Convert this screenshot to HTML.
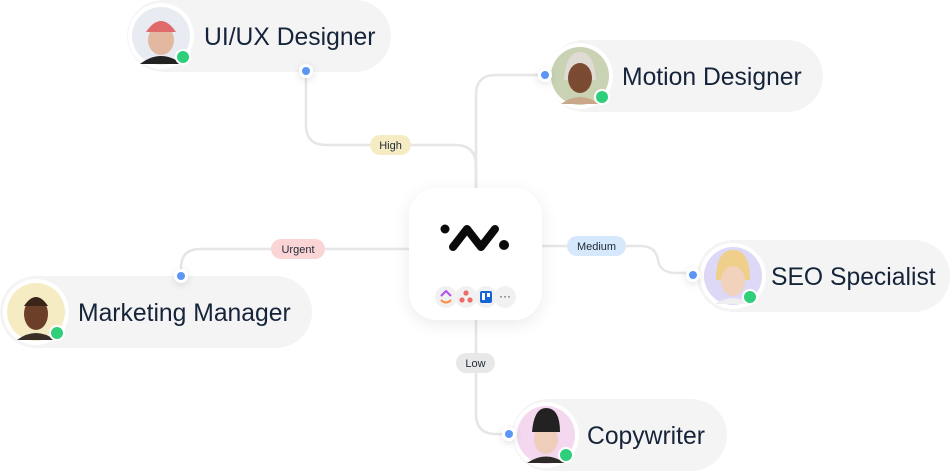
<!DOCTYPE html>
<html><head><meta charset="utf-8"><style>
html,body{margin:0;padding:0;background:#fff;width:950px;height:473px;overflow:hidden}
svg{display:block}
text{font-family:"Liberation Sans",sans-serif}
</style></head><body>
<svg width="950" height="473" viewBox="0 0 950 473" xmlns="http://www.w3.org/2000/svg">
<defs>
<filter id="sh" x="-30%" y="-30%" width="160%" height="160%"><feDropShadow dx="0" dy="4" stdDeviation="8" flood-color="#000" flood-opacity="0.08"/></filter>
<filter id="sh2" x="-100%" y="-100%" width="300%" height="300%"><feDropShadow dx="0" dy="2" stdDeviation="4" flood-color="#000" flood-opacity="0.12"/></filter>
</defs>
<!-- connectors -->
<g fill="none" stroke="#e6e6e6" stroke-width="2.5">
<path d="M306 71 V125 Q306 145 326 145 H455 Q476 145 476 166 V190"/>
<path d="M545 75 H496 Q476 75 476 95 V190"/>
<path d="M540 246 H640 Q656 246 658 260 Q660 273 676 273 H692"/>
<path d="M410 249 H200 Q181 249 181 268 V276"/>
<path d="M476 318 V414 Q476 434 496 434 H509"/>
</g>
<!-- labels -->
<g font-size="11" fill="#1f2937" text-anchor="middle">
<rect x="370" y="135" width="41" height="20" rx="10" fill="#f6ecc4"/><text x="390.5" y="149">High</text>
<rect x="567" y="236" width="59" height="20" rx="10" fill="#d6e8fb"/><text x="596.5" y="250">Medium</text>
<rect x="271" y="239" width="54" height="20" rx="10" fill="#fbd5d5"/><text x="298" y="253">Urgent</text>
<rect x="456" y="353" width="39" height="20" rx="10" fill="#e8e8e8"/><text x="475.5" y="367">Low</text>
</g>
<!-- center box -->
<rect x="409" y="188" width="133" height="132" rx="28" fill="#fff" filter="url(#sh)"/>
<g stroke="#0a0a0a" stroke-width="8" stroke-linecap="round" stroke-linejoin="round" fill="none">
<path d="M453 247 L467 229 L481 247 L495 229"/>
</g>
<circle cx="445" cy="229" r="4.5" fill="#0a0a0a"/>
<circle cx="504" cy="245" r="5" fill="#0a0a0a"/>
<g>
<circle cx="446" cy="297" r="11" fill="#f1f1f1"/>
<path d="M441 296 L446 291 L451 296" stroke="#b04ef0" stroke-width="2" fill="none"/>
<path d="M441 300 Q446 305 451 300" stroke="#ff8a3d" stroke-width="2" fill="none"/>
<circle cx="466" cy="297" r="11" fill="#f1f1f1"/>
<circle cx="466" cy="293" r="2.6" fill="#f06a6a"/><circle cx="462" cy="300" r="2.6" fill="#f06a6a"/><circle cx="470" cy="300" r="2.6" fill="#f06a6a"/>
<circle cx="486" cy="297" r="11" fill="#f1f1f1"/>
<rect x="480" y="291" width="12" height="12" rx="2" fill="#1565d8"/><rect x="482" y="293" width="3" height="7" fill="#fff"/><rect x="487" y="293" width="3" height="4" fill="#fff"/>
<circle cx="505" cy="297" r="11" fill="#f1f1f1"/>
<text x="505" y="300" font-size="12" text-anchor="middle" fill="#333">···</text>
</g>
<!-- pills -->
<g fill="#f4f4f5">
<rect x="127" y="0" width="264" height="72" rx="36"/>
<rect x="548" y="40" width="275" height="72" rx="36"/>
<rect x="697" y="240" width="253" height="72" rx="36"/>
<rect x="0" y="276" width="312" height="72" rx="36"/>
<rect x="512" y="399" width="215" height="72" rx="36"/>
</g>
<g font-size="24.7" fill="#16243a">
<text x="204" y="45">UI/UX Designer</text>
<text x="622" y="85">Motion Designer</text>
<text x="771" y="285">SEO Specialist</text>
<text x="78" y="321">Marketing Manager</text>
<text x="587" y="444">Copywriter</text>
</g>
<!-- avatars -->
<g>
<circle cx="161" cy="36" r="33" fill="#fff"/><circle cx="161" cy="36" r="29" fill="#e8ecf2"/>
<path d="M140 64 Q161 48 182 64 Z" fill="#222"/><ellipse cx="161" cy="40" rx="13" ry="15" fill="#e2b9a0"/><path d="M146 32 Q161 10 176 32 Z" fill="#e06a6a"/>
<circle cx="183" cy="57" r="7" fill="#2fce7a" stroke="#fff" stroke-width="2"/>

<circle cx="580" cy="76" r="33" fill="#fff"/><circle cx="580" cy="76" r="29" fill="#c9d3b4"/>
<path d="M561 104 Q580 90 599 104 Z" fill="#c9a78a"/><path d="M564 80 Q566 52 580 52 Q594 52 596 80 Z" fill="#e0dcd5"/><ellipse cx="580" cy="78" rx="12" ry="15" fill="#7a4b30"/>
<circle cx="602" cy="97" r="7" fill="#2fce7a" stroke="#fff" stroke-width="2"/>

<circle cx="733" cy="276" r="33" fill="#fff"/><circle cx="733" cy="276" r="29" fill="#ddd8f5"/>
<path d="M715 304 Q733 292 751 304 Z" fill="#eee"/><path d="M716 280 Q716 250 733 250 Q750 250 750 280 Z" fill="#f0cf8a"/><ellipse cx="733" cy="281" rx="12" ry="15" fill="#f0d2bd"/>
<circle cx="750" cy="297" r="7" fill="#2fce7a" stroke="#fff" stroke-width="2"/>

<circle cx="36" cy="312" r="33" fill="#fff"/><circle cx="36" cy="312" r="29" fill="#f6ecc4"/>
<path d="M17 340 Q36 326 55 340 Z" fill="#3a2e28"/><ellipse cx="36" cy="314" rx="12" ry="16" fill="#6b3f28"/><path d="M24 306 Q36 288 48 306 Z" fill="#3b2418"/>
<circle cx="57" cy="333" r="7" fill="#2fce7a" stroke="#fff" stroke-width="2"/>

<circle cx="546" cy="435" r="33" fill="#fff"/><circle cx="546" cy="435" r="29" fill="#f3d8ef"/>
<path d="M527 463 Q546 450 565 463 Z" fill="#2d2a28"/><ellipse cx="546" cy="439" rx="12" ry="15" fill="#efcdbb"/><path d="M532 432 Q534 408 546 408 Q560 408 560 432 Z" fill="#222"/>
<circle cx="566" cy="455" r="7" fill="#2fce7a" stroke="#fff" stroke-width="2"/>
</g>
<!-- connector dots -->
<g fill="#5b95f5" stroke="#fff" stroke-width="3" filter="url(#sh2)">
<circle cx="306" cy="71" r="5.5"/>
<circle cx="545" cy="75" r="5.5"/>
<circle cx="693" cy="275" r="5.5"/>
<circle cx="181" cy="276" r="5.5"/>
<circle cx="509" cy="434" r="5.5"/>
</g>
</svg>
</body></html>
